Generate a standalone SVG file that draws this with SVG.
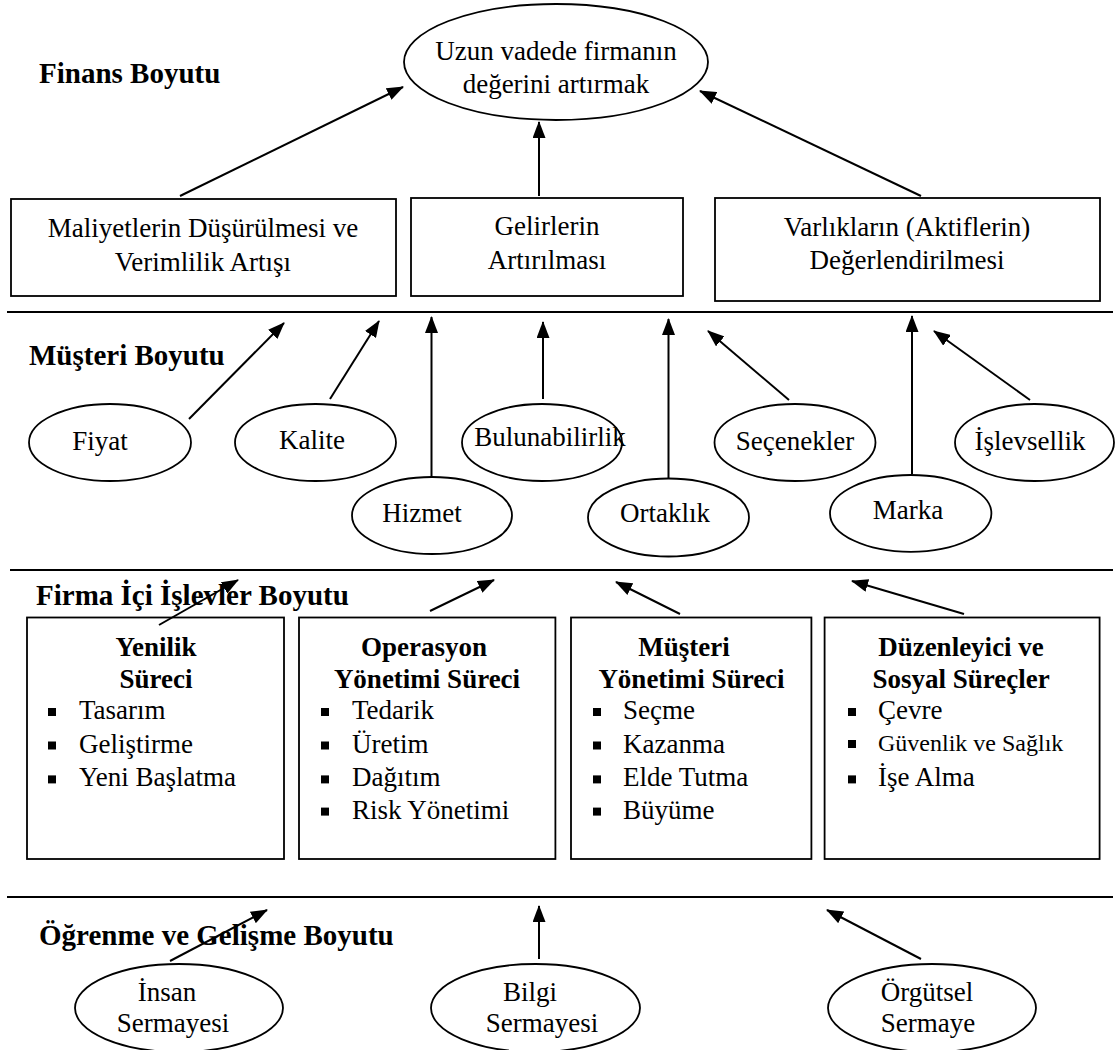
<svg xmlns="http://www.w3.org/2000/svg" width="1115" height="1050" viewBox="0 0 1115 1050">
<defs>
<style>
text{font-family:"Liberation Serif","Times New Roman",serif;font-size:27px;fill:#000}
.h{font-weight:bold;font-size:29px}
.hb{font-weight:bold;font-size:27px;text-anchor:middle}
.c{text-anchor:middle}
.s{font-size:24px}
.n{fill:#fff;stroke:#000;stroke-width:1.8}
.a{stroke:#000;stroke-width:2;fill:none;marker-end:url(#ah)}
.l{stroke:#000;stroke-width:2.2}
.bu{fill:#000}
</style>
<marker id="ah" markerWidth="17" markerHeight="13" refX="16" refY="6.5" orient="auto" markerUnits="userSpaceOnUse"><path d="M0,0 L17,6.5 L0,13 z" fill="#000"/></marker>
</defs>
<rect width="1115" height="1050" fill="#fff"/>

<g id="separators">
<line class="l" x1="7" y1="312" x2="1113" y2="312"/>
<line class="l" x1="10" y1="570" x2="1113" y2="570"/>
<line class="l" x1="7" y1="897" x2="1113" y2="897"/>
</g>

<g id="section-labels">
<text class="h" x="39" y="83">Finans Boyutu</text>
<text class="h" x="29" y="365">Müşteri Boyutu</text>
<text class="h" x="36" y="605">Firma İçi İşlevler Boyutu</text>
<text class="h" x="39" y="945">Öğrenme ve Gelişme Boyutu</text>
</g>

<g id="goal">
<ellipse class="n" cx="556" cy="62" rx="152" ry="58"/>
<text class="c" x="556" y="60">Uzun vadede firmanın</text>
<text class="c" x="556" y="93">değerini artırmak</text>
</g>

<g id="fin-maliyet">
<rect class="n" x="11" y="199" width="385" height="97"/>
<text class="c" x="203" y="237">Maliyetlerin Düşürülmesi ve</text>
<text class="c" x="203" y="271">Verimlilik Artışı</text>
</g>
<g id="fin-gelir">
<rect class="n" x="411" y="198" width="272" height="98"/>
<text class="c" x="547" y="235">Gelirlerin</text>
<text class="c" x="547" y="269">Artırılması</text>
</g>
<g id="fin-varlik">
<rect class="n" x="715" y="198" width="385" height="103"/>
<text class="c" x="907" y="236">Varlıkların (Aktiflerin)</text>
<text class="c" x="907" y="269">Değerlendirilmesi</text>
</g>

<g id="cust-fiyat">
<ellipse class="n" cx="110" cy="442.5" rx="81" ry="38.5"/>
<text class="c" x="100" y="450">Fiyat</text>
</g>
<g id="cust-kalite">
<ellipse class="n" cx="315.5" cy="442.5" rx="80.5" ry="38.5"/>
<text class="c" x="312" y="449">Kalite</text>
</g>
<g id="cust-hizmet">
<ellipse class="n" cx="432" cy="515.5" rx="80" ry="38.5"/>
<text class="c" x="422" y="522">Hizmet</text>
</g>
<g id="cust-bulunabilirlik">
<ellipse class="n" cx="542" cy="442.5" rx="80" ry="38.5"/>
<text class="c" x="550" y="446">Bulunabilirlik</text>
</g>
<g id="cust-ortaklik">
<ellipse class="n" cx="668.5" cy="517.5" rx="80.5" ry="39"/>
<text class="c" x="665" y="522">Ortaklık</text>
</g>
<g id="cust-secenekler">
<ellipse class="n" cx="795" cy="442.5" rx="80.5" ry="38.5"/>
<text class="c" x="795" y="450">Seçenekler</text>
</g>
<g id="cust-marka">
<ellipse class="n" cx="910.7" cy="513.4" rx="80.7" ry="38.4"/>
<text class="c" x="908" y="519">Marka</text>
</g>
<g id="cust-islevsellik">
<ellipse class="n" cx="1034.5" cy="442.5" rx="79.5" ry="38.5"/>
<text class="c" x="1030" y="450">İşlevsellik</text>
</g>

<g id="proc-yenilik">
<rect class="n" x="27" y="617.5" width="257" height="241.5"/>
<text class="hb" x="156" y="656">Yenilik</text>
<text class="hb" x="156" y="688">Süreci</text>
<rect class="bu" x="48" y="708" width="8" height="8"/><text x="79" y="719">Tasarım</text>
<rect class="bu" x="48" y="741.5" width="8" height="8"/><text x="79" y="752.5">Geliştirme</text>
<rect class="bu" x="48" y="775.4" width="8" height="8"/><text x="79" y="786.4">Yeni Başlatma</text>
</g>
<g id="proc-operasyon">
<rect class="n" x="299" y="617.5" width="256.4" height="241.5"/>
<text class="hb" x="424" y="656">Operasyon</text>
<text class="hb" x="427" y="688">Yönetimi Süreci</text>
<rect class="bu" x="321" y="708" width="8" height="8"/><text x="352" y="719">Tedarik</text>
<rect class="bu" x="321" y="741.5" width="8" height="8"/><text x="352" y="752.5">Üretim</text>
<rect class="bu" x="321" y="775.4" width="8" height="8"/><text x="352" y="786.4">Dağıtım</text>
<rect class="bu" x="321" y="807.6" width="8" height="8"/><text x="352" y="818.6">Risk Yönetimi</text>
</g>
<g id="proc-musteri">
<rect class="n" x="571" y="617.5" width="240.4" height="241.5"/>
<text class="hb" x="684" y="656">Müşteri</text>
<text class="hb" x="691.5" y="688">Yönetimi Süreci</text>
<rect class="bu" x="593" y="708" width="8" height="8"/><text x="623" y="719">Seçme</text>
<rect class="bu" x="593" y="741.5" width="8" height="8"/><text x="623" y="752.5">Kazanma</text>
<rect class="bu" x="593" y="775.4" width="8" height="8"/><text x="623" y="786.4">Elde Tutma</text>
<rect class="bu" x="593" y="807.6" width="8" height="8"/><text x="623" y="818.6">Büyüme</text>
</g>
<g id="proc-duzenleyici">
<rect class="n" x="824.6" y="617.5" width="275" height="241.5"/>
<text class="hb" x="961" y="656">Düzenleyici ve</text>
<text class="hb" x="961" y="688">Sosyal Süreçler</text>
<rect class="bu" x="848" y="708" width="8" height="8"/><text x="878" y="719">Çevre</text>
<rect class="bu" x="848" y="740" width="8" height="8"/><text class="s" x="878" y="750.7">Güvenlik ve Sağlık</text>
<rect class="bu" x="848" y="775.4" width="8" height="8"/><text x="878" y="786.4">İşe Alma</text>
</g>

<g id="learn-insan">
<ellipse class="n" cx="179" cy="1008" rx="104" ry="44"/>
<text class="c" x="167" y="1001">İnsan</text>
<text class="c" x="173" y="1032">Sermayesi</text>
</g>
<g id="learn-bilgi">
<ellipse class="n" cx="535.5" cy="1008" rx="104.5" ry="44"/>
<text class="c" x="530" y="1001">Bilgi</text>
<text class="c" x="542" y="1032">Sermayesi</text>
</g>
<g id="learn-orgutsel">
<ellipse class="n" cx="932" cy="1008" rx="104" ry="44"/>
<text class="c" x="927" y="1001">Örgütsel</text>
<text class="c" x="928" y="1032">Sermaye</text>
</g>

<g id="connectors">
<line class="a" x1="180" y1="196" x2="403" y2="87"/>
<line class="a" x1="539" y1="196" x2="539" y2="122"/>
<line class="a" x1="921" y1="196" x2="700" y2="91"/>

<line class="a" x1="189" y1="419" x2="284" y2="323"/>
<line class="a" x1="330" y1="399" x2="379" y2="321"/>
<line class="a" x1="431.5" y1="477" x2="431.5" y2="317"/>
<line class="a" x1="543" y1="399" x2="543" y2="322"/>
<line class="a" x1="668.5" y1="478" x2="668.5" y2="319"/>
<line class="a" x1="789" y1="400" x2="708" y2="331"/>
<line class="a" x1="912" y1="474" x2="912" y2="316"/>
<line class="a" x1="1030" y1="400" x2="934" y2="331"/>

<line class="a" x1="159" y1="625" x2="238" y2="580"/>
<line class="a" x1="430" y1="611" x2="494" y2="580"/>
<line class="a" x1="680" y1="614" x2="616" y2="582"/>
<line class="a" x1="964" y1="614" x2="852" y2="581"/>

<line class="a" x1="170" y1="961" x2="267" y2="910"/>
<line class="a" x1="539" y1="959" x2="539" y2="906"/>
<line class="a" x1="921" y1="959" x2="827" y2="910"/>
</g>
</svg>
